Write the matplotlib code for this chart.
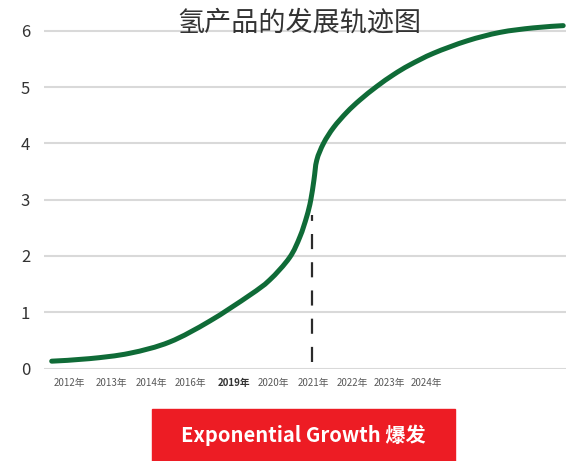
import matplotlib
matplotlib.use("Agg")
import matplotlib.pyplot as plt
from matplotlib.patches import Rectangle, PathPatch
from matplotlib.path import Path

plt.rcParams['font.family'] = ['Noto Sans CJK SC', 'DejaVu Sans']

# curve (x in label-spacing units, 0 = 2012年)
curve_x = [-0.445, 0.5, 1.5, 2.5, 3.5, 4.5, 5.0, 5.5, 5.76, 5.93, 6.03, 6.11,
           6.18, 6.35, 6.60, 6.93, 7.26, 7.68, 8.10, 8.50, 9.10, 9.94, 10.76,
           11.59, 12.34]
curve_y = [0.13, 0.175, 0.27, 0.47, 0.84, 1.30, 1.57, 1.97, 2.34, 2.70, 2.99,
           3.35, 3.70, 4.00, 4.28, 4.55, 4.77, 5.01, 5.22, 5.39, 5.60, 5.82,
           5.97, 6.05, 6.09]

year_labels = ['2012年', '2013年', '2014年', '2016年', '2019年', '2020年',
               '2021年', '2022年', '2023年', '2024年']
year_pos = [0, 1.04, 2.05, 3.02, 4.1, 5.1, 6.1, 7.08, 7.99, 8.91]

marker_x = 6.05
marker_y = [0.12, 2.73]

title = '氢产品的发展轨迹图'
banner = 'Exponential Growth 爆发'


def smooth_path(xs, ys):
    # Catmull-Rom through the points, as cubic Bezier segments (like Excel's smoothed line)
    pts = list(zip(xs, ys))
    ext = [pts[0]] + pts + [pts[-1]]
    verts = [pts[0]]
    codes = [Path.MOVETO]
    for i in range(1, len(ext) - 2):
        p0, p1, p2, p3 = ext[i - 1], ext[i], ext[i + 1], ext[i + 2]
        c1 = (p1[0] + (p2[0] - p0[0]) / 6, p1[1] + (p2[1] - p0[1]) / 6)
        c2 = (p2[0] - (p3[0] - p1[0]) / 6, p2[1] - (p3[1] - p1[1]) / 6)
        verts += [c1, c2, p2]
        codes += [Path.CURVE4] * 3
    return Path(verts, codes)


W, H = 566, 461
fig = plt.figure(figsize=(W / 100, H / 100), dpi=100)
ax = fig.add_axes([44 / W, (H - 368.5) / H, (W - 44) / W, 6.4 * 56.3 / H])

ax.add_patch(PathPatch(smooth_path(curve_x, curve_y), fill=False,
                       edgecolor='#0f6b37', lw=3.6, capstyle='round',
                       joinstyle='round', zorder=3))
ax.plot([marker_x, marker_x], marker_y, color='#2b2b2b', lw=1.6,
        linestyle=(0, (6.8, 5.9)), zorder=2)

ax.set_xlim(-0.6375, 12.41)
ax.set_ylim(0, 6.4)
ax.set_yticks(range(7))
ax.yaxis.grid(True, color='#d9d9d9', lw=1.5)
ax.set_axisbelow(True)
ax.tick_params(axis='y', length=0, pad=10, labelsize=12, labelcolor='#333333')
ax.set_xticks(year_pos)
ax.set_xticklabels(year_labels)
ax.tick_params(axis='x', length=0, pad=7, labelsize=7, labelcolor='#595959')
for lbl in ax.get_xticklabels():
    if lbl.get_text() == '2019年':
        lbl.set_fontweight('bold')
        lbl.set_color('#333333')
for s in ax.spines.values():
    s.set_visible(False)

fig.text(299.5 / W, 1 - 23 / H, title, ha='center', va='center',
         fontsize=19.5, color='#333333')

fig.patches.append(Rectangle((152 / W, 0), (455 - 152) / W, (H - 409) / H,
                             transform=fig.transFigure, color='#ed1c24',
                             zorder=1))
fig.text(303.5 / W, 1 - 435 / H, banner, ha='center', va='center',
         fontsize=14.5, fontweight='bold', color='white', zorder=4)

fig.savefig('out.png', dpi=100)
